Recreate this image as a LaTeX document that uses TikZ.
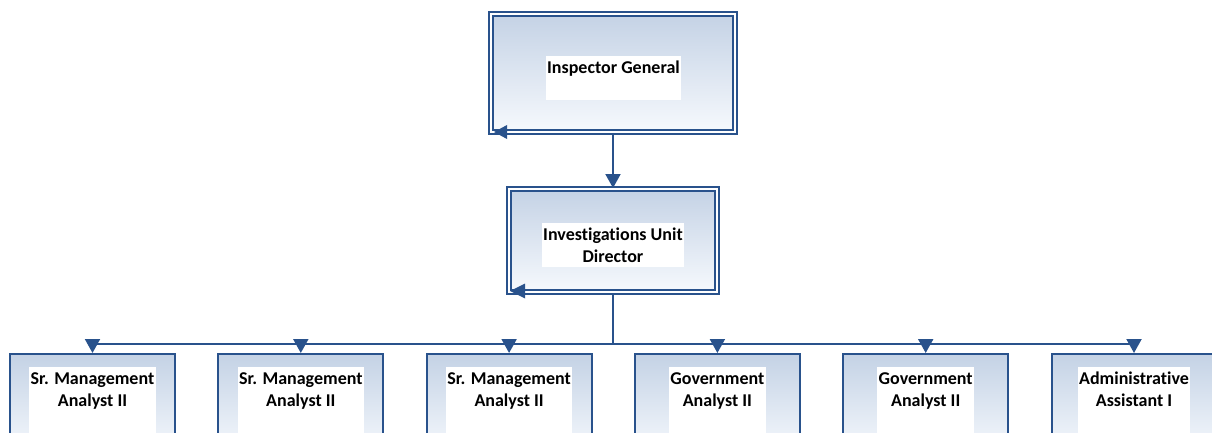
\documentclass[tikz,border=0pt]{standalone}
\usepackage{fontspec}
\setmainfont[Ligatures={NoCommon}]{Carlito}
\usetikzlibrary{arrows.meta}
\definecolor{bleuCadre}{RGB}{41,82,140}
\definecolor{bleuHaut}{RGB}{196,210,229}
\definecolor{bleuBas}{RGB}{246,249,253}
\newcommand{\etiq}[1]{\begin{tabular}[t]{@{}c@{}}#1\end{tabular}}

\begin{document}
\begin{tikzpicture}[x=1pt,y=-1pt,
    cadre/.style={rectangle, draw=bleuCadre, line width=2pt, inner sep=0pt,
        top color=bleuHaut, bottom color=bleuBas, minimum width=165pt, minimum height=100pt},
    cadreDouble/.style={cadre, double=white, double distance=2pt},
    etiquette/.style={fill=white, text=black, inner xsep=1.5pt, inner ysep=0pt, anchor=north,
        text height=17pt, text depth=27pt, font=\fontsize{18}{22}\selectfont\bfseries},
    trait/.style={draw=bleuCadre, line width=2pt},
    liaison/.style={trait, -{Triangle[width=15pt,length=14pt]}}]
    \useasboundingbox (0,0) rectangle (1212,433);
    \clip (0,0) rectangle (1212,433);

    % Direction
    \node[cadreDouble, minimum width=244pt, minimum height=118pt] (ig) at (613,73) {};
    \node[etiquette] (ig-t) at (613.5,56) {\etiq{Inspector General}};
    \fill[bleuCadre] ([shift={(4,-1)}]ig.south west) -- ++(13,-7) -- ++(0,14) -- cycle;

    \node[cadreDouble, minimum width=208pt, minimum height=103pt] (dir) at (613,240.5) {};
    \node[etiquette] (dir-t) at (613,223) {\etiq{Investigations Unit\\Director}};
    \fill[bleuCadre] ([shift={(2,-2)}]dir.south west) -- ++(15,-7.5) -- ++(0,15) -- cycle;

    % Postes
    \foreach \nom/\x/\texte in {sma1/92.5/{Sr. Management\\Analyst II},
        sma2/300.8/{Sr. Management\\Analyst II}, sma3/509.1/{Sr. Management\\Analyst II},
        ga1/717.4/{Government\\Analyst II}, ga2/925.7/{Government\\Analyst II},
        adm/1134/{Administrative\\Assistant I}}{
        \node[cadre] (\nom) at (\x,404) {};
        \node[etiquette, text depth=60pt] (\nom-t) at (\x,367) {\etiq{\texte}};
    }

    % Liaisons
    \draw[liaison] (ig) -- (dir);
    \coordinate (bus) at (613,344);
    \draw[trait] (dir) -- (bus);
    \draw[trait] (bus -| sma1) -- (bus -| adm);
    \foreach \nom in {sma1,sma2,sma3,ga1,ga2,adm}
        \draw[liaison] (bus -| \nom.north) -- (\nom.north);
\end{tikzpicture}
\end{document}
